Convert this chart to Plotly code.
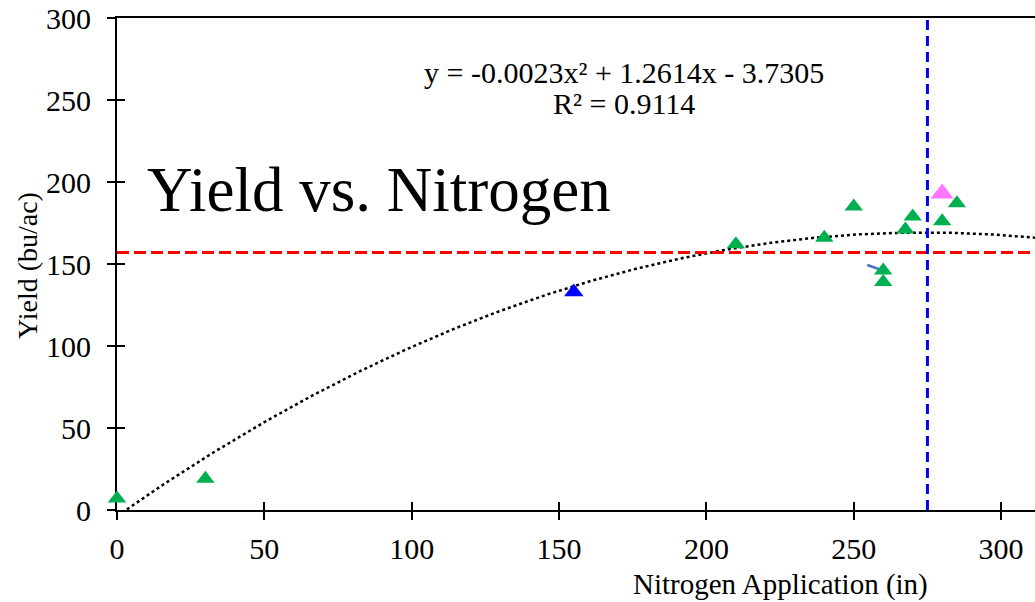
import numpy as np
import plotly.graph_objects as go

# ---- data ----
green_x = [0, 30, 210, 240, 250, 260, 260, 267.5, 270, 280, 285]
green_y = [7, 19, 162, 166, 185, 146, 139, 171, 179, 176, 187]
blue_x = [155]
blue_y = [133]
pink_x = [280]
pink_y = [193]

trend_coef = [-0.0023, 1.2614, -3.7305]   # from the chart's equation label
ref_yield = 157          # red dashed horizontal line
ref_nitrogen = 275       # blue dashed vertical line

x_ticks = [0, 50, 100, 150, 200, 250, 300]
y_ticks = [0, 50, 100, 150, 200, 250, 300]
x_range = [0, 311.5]
y_range = [0, 300]

arrow_x = [254.6, 259.5]
arrow_y = [149.4, 146.3]

equation_line1 = "y = -0.0023x² + 1.2614x - 3.7305"
equation_line2 = "R² = 0.9114"
title_text = "Yield vs. Nitrogen"
x_title = "Nitrogen Application (in)"
y_title = "Yield (bu/ac)"

FONT = "Liberation Serif, Times New Roman, serif"

fig = go.Figure()

# trendline from equation
tx = np.linspace(x_range[0], x_range[1], 300)
ty = np.polyval(trend_coef, tx)
fig.add_trace(go.Scatter(x=tx, y=ty, mode="lines",
                         line=dict(color="black", width=2.5, dash="dot"),
                         hoverinfo="skip", showlegend=False))

# reference lines
fig.add_trace(go.Scatter(x=x_range, y=[ref_yield, ref_yield], mode="lines",
                         line=dict(color="#FF0000", width=3, dash="12px,5px"),
                         showlegend=False, hoverinfo="skip"))
fig.add_trace(go.Scatter(x=[ref_nitrogen, ref_nitrogen], y=y_range, mode="lines",
                         line=dict(color="#0000FF", width=3, dash="10px,6px"),
                         showlegend=False, hoverinfo="skip"))

# arrow line
fig.add_trace(go.Scatter(x=arrow_x, y=arrow_y, mode="lines",
                         line=dict(color="#4472C4", width=2.5),
                         showlegend=False, hoverinfo="skip"))

# points
fig.add_trace(go.Scatter(x=green_x, y=green_y, mode="markers",
                         marker=dict(symbol="triangle-up", size=16, color="#00B050"),
                         cliponaxis=False, showlegend=False))
fig.add_trace(go.Scatter(x=blue_x, y=blue_y, mode="markers",
                         marker=dict(symbol="triangle-up", size=17, color="#0000FF"),
                         cliponaxis=False, showlegend=False))
fig.add_trace(go.Scatter(x=pink_x, y=pink_y, mode="markers",
                         marker=dict(symbol="triangle-up", size=20, color="#FF77FF"),
                         cliponaxis=False, showlegend=False))

# invisible trace for overlay axes (inner halves of crossing ticks)
fig.add_trace(go.Scatter(x=[None], y=[None], xaxis="x2", yaxis="y2",
                         showlegend=False, hoverinfo="skip"))

tickfont = dict(family=FONT, size=30, color="black")

fig.update_layout(
    width=1035, height=602,
    margin=dict(l=117, r=0, t=18, b=92),
    paper_bgcolor="white", plot_bgcolor="white",
    xaxis=dict(range=x_range, tickvals=x_ticks, ticks="outside", ticklen=8,
               tickwidth=2, tickcolor="black", showline=True, linewidth=2,
               linecolor="black", mirror=True, showgrid=False, zeroline=False,
               tickfont=tickfont, ticklabelstandoff=3, layer="below traces"),
    yaxis=dict(range=y_range, tickvals=y_ticks, ticks="outside", ticklen=8,
               tickwidth=2, tickcolor="black", showline=True, linewidth=2,
               linecolor="black", showgrid=False, zeroline=False,
               tickfont=tickfont, ticklabelstandoff=10, layer="below traces"),
    xaxis2=dict(overlaying="x", anchor="y", side="bottom", range=x_range,
                tickvals=x_ticks, ticks="inside", ticklen=8, tickwidth=2,
                tickcolor="black", showticklabels=False, showline=False,
                showgrid=False, zeroline=False),
    yaxis2=dict(overlaying="y", anchor="x", side="left", range=y_range,
                tickvals=y_ticks, ticks="inside", ticklen=8, tickwidth=2,
                tickcolor="black", showticklabels=False, showline=False,
                showgrid=False, zeroline=False),
    showlegend=False,
)

eqfont = dict(family=FONT, size=30, color="black")
fig.add_annotation(x=172, y=267, xref="x", yref="y", text=equation_line1,
                   showarrow=False, font=eqfont)
fig.add_annotation(x=172, y=248, xref="x", yref="y", text=equation_line2,
                   showarrow=False, font=eqfont)
fig.add_annotation(x=89, y=195, xref="x", yref="y", text=title_text,
                   showarrow=False, font=dict(family=FONT, size=63, color="black"))
fig.add_annotation(x=(780 - 117) / 918, y=(510 - 584) / 492, xref="paper", yref="paper",
                   xanchor="center", yanchor="middle",
                   text=x_title, showarrow=False,
                   font=dict(family=FONT, size=29, color="black"))
fig.add_annotation(x=(27 - 117) / 918, y=(510 - 266) / 492, xref="paper", yref="paper",
                   xanchor="center", yanchor="middle",
                   text=y_title, showarrow=False, textangle=-90,
                   font=dict(family=FONT, size=28, color="black"))

fig.write_html("out.html", config={"displayModeBar": False},
               post_script="document.body.style.margin='0';document.body.style.overflow='hidden';")
